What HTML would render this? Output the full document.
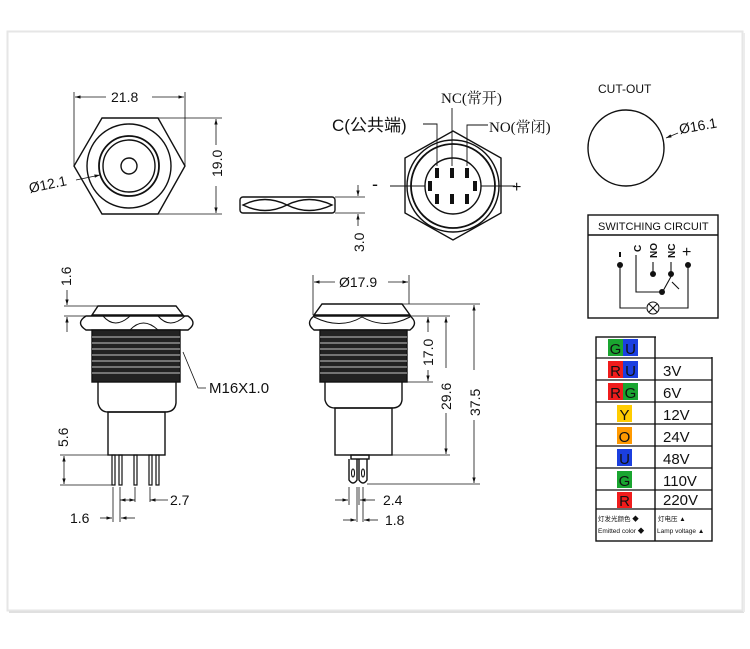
<!DOCTYPE html>
<html><head><meta charset="utf-8">
<style>
html,body{margin:0;padding:0;background:#fff;}
svg{display:block;}
text{font-family:"Liberation Sans","Noto Sans CJK SC",sans-serif;fill:#111;}
</style></head>
<body>
<svg width="750" height="649" viewBox="0 0 750 649" xmlns="http://www.w3.org/2000/svg">
<defs>
<marker id="a" viewBox="0 0 10 10" refX="10" refY="5" markerWidth="7" markerHeight="7" orient="auto-start-reverse"><path d="M0,2 L10,5 L0,8 z" fill="#111"/></marker>
</defs>
<rect x="7.5" y="31.5" width="735" height="579" fill="#fff" stroke="#e6e6e6" stroke-width="2"/>
<line x1="9" y1="612" x2="744" y2="612" stroke="#e0e0e0" stroke-width="2"/>
<line x1="744" y1="33" x2="744" y2="612" stroke="#ececec" stroke-width="2"/>

<g fill="none" stroke="#111" stroke-width="1.4">
<polygon points="102,118 158,118 185,166 158,214 102,214 74,166"/>
<circle cx="129" cy="166" r="42"/>
<circle cx="129" cy="166" r="30" stroke-width="1.8"/>
<circle cx="129" cy="166" r="26"/>
<circle cx="129" cy="166" r="8"/>
<g stroke-width="0.8">
<line x1="74" y1="92" x2="74" y2="166"/><line x1="185" y1="92" x2="185" y2="166"/>
<line x1="75" y1="97" x2="106" y2="97" marker-start="url(#a)"/><line x1="152" y1="97" x2="184" y2="97" marker-end="url(#a)"/>
<line x1="158" y1="118" x2="222" y2="118"/><line x1="158" y1="214" x2="222" y2="214"/>
<line x1="216" y1="119" x2="216" y2="145" marker-start="url(#a)"/><line x1="216" y1="186" x2="216" y2="213" marker-end="url(#a)"/>
<line x1="76" y1="180" x2="100" y2="175" marker-end="url(#a)"/>
</g>
<rect x="240" y="197" width="95" height="16" rx="3"/>
<path d="M243,205 Q265,194 287,205 Q265,216 243,205 Z M287,205 Q309,194 332,205 Q309,216 287,205 Z"/>
<g stroke-width="0.8">
<line x1="335" y1="197" x2="365" y2="197"/><line x1="335" y1="213" x2="365" y2="213"/>
<line x1="358" y1="185" x2="358" y2="196" marker-end="url(#a)"/><line x1="358" y1="226" x2="358" y2="214" marker-end="url(#a)"/>
</g>
<polygon points="453,131 501,158 501,213 453,240 405,213 405,158"/>
<circle cx="453" cy="186" r="46"/>
<circle cx="453" cy="186" r="42" stroke-width="1.8"/>
<circle cx="453" cy="186" r="28"/>
<g fill="#111" stroke="none">
<rect x="435" y="168" width="4" height="10"/><rect x="450" y="168" width="4" height="10"/><rect x="465" y="168" width="4" height="10"/>
<rect x="435" y="194" width="4" height="10"/><rect x="450" y="194" width="4" height="10"/><rect x="465" y="194" width="4" height="10"/>
<rect x="428" y="181" width="4" height="10"/><rect x="473" y="181" width="4" height="10"/>
</g>
<g stroke-width="0.9">
<line x1="390" y1="186" x2="425" y2="186"/><line x1="481" y1="186" x2="515" y2="186"/>
<line x1="452" y1="108" x2="452" y2="166"/>
<polyline points="423,124 437,124 437,166"/>
<polyline points="488,125 467,125 467,166"/>
</g>
<circle cx="626" cy="148" r="38"/>
<line x1="678" y1="133" x2="666" y2="138" stroke-width="0.8" marker-end="url(#a)"/>
<rect x="588" y="215" width="130" height="103"/>
<line x1="588" y1="235" x2="718" y2="235"/>
<g stroke-width="1.1">
<polyline points="620,265 620,308 646,308"/>
<polyline points="688,265 688,308 660,308"/>
<circle cx="653" cy="308" r="6"/>
<line x1="649" y1="304" x2="657" y2="312"/><line x1="657" y1="304" x2="649" y2="312"/>
<polyline points="636,255 636,292 662,292"/>
<line x1="653" y1="262" x2="653" y2="273"/>
<line x1="671" y1="262" x2="671" y2="273"/>
<line x1="663" y1="291" x2="673" y2="273"/>
<line x1="672" y1="282" x2="679" y2="289"/>
</g>
<g fill="#111" stroke="none">
<circle cx="620" cy="265" r="3"/><circle cx="688" cy="265" r="3"/>
<circle cx="653" cy="274" r="3"/><circle cx="671" cy="274" r="3"/><circle cx="662" cy="292" r="3"/>
<rect x="619" y="252" width="2" height="5"/>
</g>
<rect x="596" y="337" width="116" height="204"/>
<line x1="655" y1="337" x2="655" y2="541"/>
<g stroke-width="1.2">
<line x1="596" y1="358" x2="712" y2="358"/><line x1="596" y1="380" x2="712" y2="380"/>
<line x1="596" y1="402" x2="712" y2="402"/><line x1="596" y1="424" x2="712" y2="424"/>
<line x1="596" y1="446" x2="712" y2="446"/><line x1="596" y1="468" x2="712" y2="468"/>
<line x1="596" y1="490" x2="712" y2="490"/><line x1="596" y1="509" x2="712" y2="509"/>
</g>
</g>
<line x1="656" y1="337" x2="713" y2="337" stroke="#fff" stroke-width="2"/>
<line x1="712" y1="336" x2="712" y2="357" stroke="#fff" stroke-width="2"/>

<g fill="none" stroke="#111" stroke-width="1.4">
<path d="M92,315 L98,306 L176,306 L183,315 Z"/>
<path d="M86,330 Q75,323 86,316 L188,316 Q198,323 188,330 Z"/>
<path d="M103,316 Q115,330 130,316 M130,330 Q143,316 158,330 M158,316 Q170,330 185,316" stroke-width="1"/>
<rect x="92" y="330" width="88" height="52" fill="#222"/>
<path d="M98,382 L98,403 Q100,412 108,412 L165,412 Q175,412 176,403 L176,382"/>
<rect x="108" y="412" width="57" height="43"/>
</g>
<g stroke="#fff" stroke-width="0.8">
<line x1="92" y1="337" x2="180" y2="337"/><line x1="92" y1="343" x2="180" y2="343"/><line x1="92" y1="349" x2="180" y2="349"/>
<line x1="92" y1="355" x2="180" y2="355"/><line x1="92" y1="361" x2="180" y2="361"/><line x1="92" y1="367" x2="180" y2="367"/><line x1="92" y1="373" x2="180" y2="373"/>
</g>
<g fill="none" stroke="#111" stroke-width="1.2">
<rect x="112" y="455" width="3" height="30"/><rect x="119" y="455" width="3" height="30"/><rect x="134" y="455" width="3" height="30"/>
<rect x="149" y="455" width="3" height="30"/><rect x="156" y="455" width="3" height="30"/>
</g>
<g fill="none" stroke="#111" stroke-width="0.8">
<line x1="64" y1="306" x2="98" y2="306"/><line x1="64" y1="316" x2="86" y2="316"/>
<line x1="67" y1="290" x2="67" y2="305" marker-end="url(#a)"/><line x1="67" y1="332" x2="67" y2="317" marker-end="url(#a)"/>
<line x1="60" y1="455" x2="108" y2="455"/><line x1="60" y1="485" x2="115" y2="485"/>
<line x1="64" y1="456" x2="64" y2="484" marker-start="url(#a)" marker-end="url(#a)"/>
<line x1="113" y1="487" x2="113" y2="522"/><line x1="120" y1="487" x2="120" y2="522"/>
<line x1="135" y1="487" x2="135" y2="502"/><line x1="150" y1="487" x2="150" y2="502"/>
<line x1="120" y1="500" x2="135" y2="500" marker-start="url(#a)" marker-end="url(#a)"/>
<line x1="150" y1="500" x2="168" y2="500" marker-start="url(#a)"/>
<line x1="100" y1="518" x2="112" y2="518" marker-end="url(#a)"/><line x1="135" y1="518" x2="121" y2="518" marker-end="url(#a)"/>
<polyline points="183,352 198,388 206,388"/>
</g>

<g fill="none" stroke="#111" stroke-width="1.4">
<path d="M314,315 L322,304 L402,304 L410,315 Z"/>
<path d="M314,330 Q305,323 314,316 L410,316 Q419,323 410,330 Z"/>
<path d="M314,317 Q340,330 362,317 Q385,330 410,317" stroke-width="1"/>
<rect x="320" y="330" width="87" height="52" fill="#222"/>
<path d="M325,382 L325,400 Q327,408 335,408 L392,408 Q401,408 402,400 L402,382"/>
<rect x="335" y="408" width="57" height="47"/>
<rect x="351" y="455" width="18" height="4"/>
<path d="M349,459 L349,480 Q353,486 357,480 L357,459 M359,459 L359,480 Q363,486 367,480 L367,459"/>
<ellipse cx="353" cy="473" rx="1.5" ry="4" stroke-width="1"/><ellipse cx="363" cy="473" rx="1.5" ry="4" stroke-width="1"/>
</g>
<g stroke="#fff" stroke-width="0.8">
<line x1="320" y1="337" x2="407" y2="337"/><line x1="320" y1="343" x2="407" y2="343"/><line x1="320" y1="349" x2="407" y2="349"/>
<line x1="320" y1="355" x2="407" y2="355"/><line x1="320" y1="361" x2="407" y2="361"/><line x1="320" y1="367" x2="407" y2="367"/><line x1="320" y1="373" x2="407" y2="373"/>
</g>
<g fill="none" stroke="#111" stroke-width="0.8">
<line x1="313" y1="275" x2="313" y2="315"/><line x1="409" y1="275" x2="409" y2="304"/>
<line x1="314" y1="282" x2="335" y2="282" marker-start="url(#a)"/><line x1="388" y1="282" x2="408" y2="282" marker-end="url(#a)"/>
<line x1="402" y1="304" x2="480" y2="304"/><line x1="410" y1="316" x2="450" y2="316"/>
<line x1="407" y1="382" x2="433" y2="382"/><line x1="392" y1="455" x2="450" y2="455"/><line x1="367" y1="484" x2="480" y2="484"/>
<line x1="428" y1="317" x2="428" y2="332" marker-start="url(#a)"/><line x1="428" y1="370" x2="428" y2="381" marker-end="url(#a)"/>
<line x1="446" y1="317" x2="446" y2="368" marker-start="url(#a)"/><line x1="446" y1="413" x2="446" y2="454" marker-end="url(#a)"/>
<line x1="474" y1="305" x2="474" y2="370" marker-start="url(#a)"/><line x1="474" y1="420" x2="474" y2="483" marker-end="url(#a)"/>
<line x1="349" y1="487" x2="349" y2="505"/><line x1="357" y1="487" x2="357" y2="522"/><line x1="359" y1="487" x2="359" y2="505"/><line x1="363" y1="487" x2="363" y2="522"/>
<line x1="335" y1="500" x2="348" y2="500" marker-end="url(#a)"/><line x1="375" y1="500" x2="360" y2="500" marker-end="url(#a)"/>
<line x1="343" y1="520" x2="356" y2="520" marker-end="url(#a)"/><line x1="378" y1="520" x2="364" y2="520" marker-end="url(#a)"/>
</g>

<g stroke="none">
<rect x="608" y="339" width="15" height="17" fill="#1aa530"/><rect x="623" y="339" width="15" height="17" fill="#1b3fe0"/>
<rect x="608" y="361" width="15" height="17" fill="#f01c1c"/><rect x="623" y="361" width="15" height="17" fill="#1b3fe0"/>
<rect x="608" y="383" width="15" height="17" fill="#f01c1c"/><rect x="623" y="383" width="15" height="17" fill="#1aa530"/>
<rect x="617" y="405" width="15" height="17" fill="#ffcc00"/>
<rect x="617" y="427" width="15" height="17" fill="#ff9900"/>
<rect x="617" y="449" width="15" height="17" fill="#1b3fe0"/>
<rect x="617" y="471" width="15" height="17" fill="#1aa530"/>
<rect x="617" y="492" width="15" height="16" fill="#f01c1c"/>
</g>
<g font-size="15" text-anchor="middle">
<text x="615.5" y="354">G</text><text x="630.5" y="354">U</text>
<text x="615.5" y="376">R</text><text x="630.5" y="376">U</text>
<text x="615.5" y="398">R</text><text x="630.5" y="398">G</text>
<text x="624.5" y="420">Y</text><text x="624.5" y="442">O</text><text x="624.5" y="464">U</text>
<text x="624.5" y="486">G</text><text x="624.5" y="506">R</text>
</g>
<g font-size="15">
<text x="663" y="376">3V</text><text x="663" y="398">6V</text><text x="663" y="420">12V</text>
<text x="663" y="442">24V</text><text x="663" y="464">48V</text><text x="663" y="486">110V</text><text x="663" y="505">220V</text>
</g>
<g font-size="6.5">
<text x="598" y="521">灯发光颜色 ◆</text><text x="598" y="533">Emitted color ◆</text>
<text x="658" y="521">灯电压 ▲</text><text x="657" y="533">Lamp voltage ▲</text>
</g>

<g font-size="14">
<text x="111" y="102">21.8</text>
<text transform="translate(222,177) rotate(-90)">19.0</text>
<text transform="translate(30,193) rotate(-12)">Ø12.1</text>
<text transform="translate(364,252) rotate(-90)">3.0</text>
<text x="598" y="93" font-size="12">CUT-OUT</text>
<text transform="translate(680,134) rotate(-10)">Ø16.1</text>
<text transform="translate(71,286) rotate(-90)">1.6</text>
<text transform="translate(68,447) rotate(-90)">5.6</text>
<text x="209" y="393" font-size="15">M16X1.0</text>
<text x="170" y="505">2.7</text>
<text x="70" y="523">1.6</text>
<text x="339" y="287">Ø17.9</text>
<text transform="translate(433,366) rotate(-90)">17.0</text>
<text transform="translate(451,410) rotate(-90)">29.6</text>
<text transform="translate(480,416) rotate(-90)">37.5</text>
<text x="383" y="505">2.4</text>
<text x="385" y="525">1.8</text>
</g>
<text x="598" y="230" font-size="11">SWITCHING CIRCUIT</text>
<g font-size="10" font-weight="bold">
<text transform="translate(641,252) rotate(-90)">C</text>
<text transform="translate(657,258) rotate(-90)">NO</text>
<text transform="translate(675,258) rotate(-90)">NC</text>
</g>
<text x="682" y="257" font-size="16">+</text>
<text x="332" y="131" font-size="17">C(公共端)</text>
<text x="441" y="103" style="font-size:15px;font-family:'Liberation Serif','Noto Serif CJK SC',serif">NC(常开)</text>
<text x="489" y="132" style="font-size:15px;font-family:'Liberation Serif','Noto Serif CJK SC',serif">NO(常闭)</text>
<text x="372" y="190" font-size="18">-</text>
<text x="512" y="192" font-size="16">+</text>
</svg>
</body></html>
